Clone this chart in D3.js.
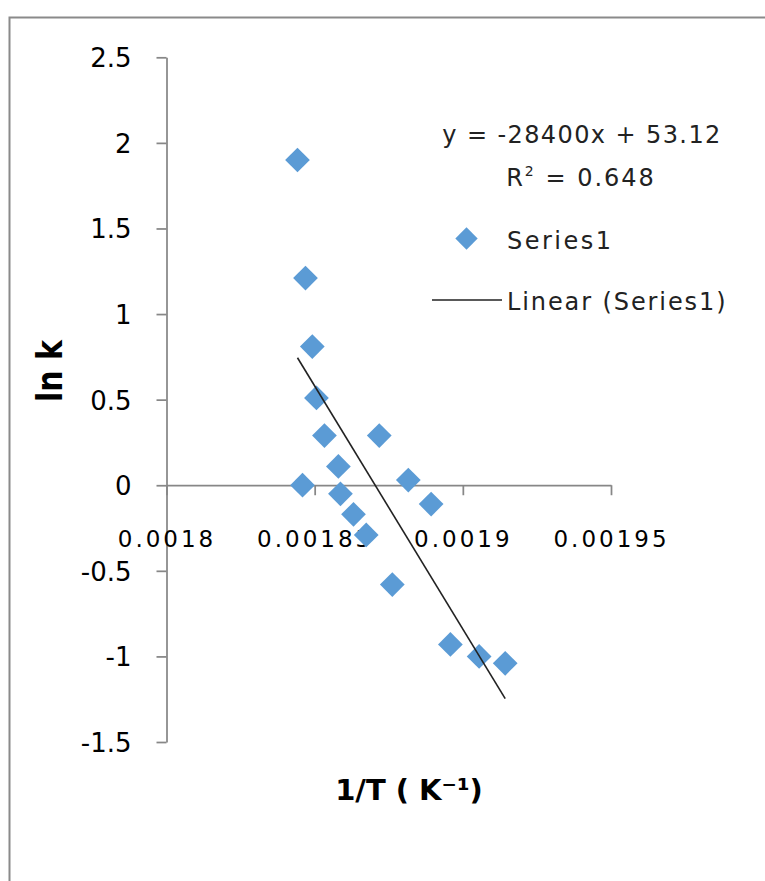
<!DOCTYPE html>
<html>
<head>
<meta charset="utf-8">
<script src="https://cdn.jsdelivr.net/npm/d3@7"></script>
<style>
  html, body { margin: 0; padding: 0; background: #fff; }
  svg { display: block; }
</style>
</head>
<body>
<svg id="chart" width="765" height="881"></svg>
<script>
// ---- data ----
const invT = [0.0018442, 0.0018469, 0.0018492, 0.0018506, 0.0018533, 0.0018459, 0.0018580, 0.0018587, 0.0018631, 0.0018674, 0.0018718, 0.0018816, 0.0018893, 0.0018762, 0.0018958, 0.0019055, 0.0019143];
const lnK  = [1.90, 1.21, 0.81, 0.51, 0.29, 0.00, 0.11, -0.05, -0.17, -0.29, 0.29, 0.03, -0.11, -0.58, -0.93, -1.00, -1.04];
const trendCoef = [-28400, 53.12];   // slope, intercept
const rSquared = "0.648";
const xTicks = [0.0018, 0.00185, 0.0019, 0.00195];
const xTickLabels = ["0.0018", "0.00185", "0.0019", "0.00195"];
const yTicks = [-1.5, -1, -0.5, 0, 0.5, 1, 1.5, 2, 2.5];
const yTickLabels = ["-1.5", "-1", "-0.5", "0", "0.5", "1", "1.5", "2", "2.5"];
const seriesName = "Series1";
const trendName = "Linear (Series1)";
const xTitle = "1/T ( K\u207B\u00B9)";
const yTitle = "ln k";

// ---- drawing ----
const svg = d3.select("#chart");
const AXIS = "#878787";
const BLUE = "#5b9bd5";
const FONT = "'DejaVu Sans', sans-serif";

// outer frame
svg.append("rect").attr("x", 9.5).attr("y", 17.5).attr("width", 800).attr("height", 900)
  .attr("fill", "#fff").attr("stroke", "#8a8a8a").attr("stroke-width", 2);

const x = d3.scaleLinear().domain([0.0018, 0.00195]).range([166.5, 611]);
const y = d3.scaleLinear().domain([-1.5, 2.5]).range([742, 57.3]);

// y axis
const yAxis = svg.append("g").attr("transform", `translate(${x(0.0018)},0)`)
  .call(d3.axisLeft(y).tickValues(yTicks).tickSize(10).tickSizeOuter(0)
        .tickFormat((d, i) => yTickLabels[i]));
yAxis.select(".domain").attr("stroke", AXIS).attr("stroke-width", 1.75);
yAxis.selectAll(".tick line").attr("stroke", AXIS).attr("stroke-width", 1.75);
yAxis.selectAll(".tick text").attr("x", -35).attr("dy", "0.36em")
  .attr("font-family", FONT).attr("font-size", 26).attr("fill", "#000");

// x axis at y = 0
const xAxis = svg.append("g").attr("transform", `translate(0,${y(0)})`)
  .call(d3.axisBottom(x).tickValues(xTicks).tickSize(10).tickSizeOuter(0)
        .tickFormat((d, i) => xTickLabels[i]));
xAxis.select(".domain").attr("stroke", AXIS).attr("stroke-width", 1.75);
xAxis.selectAll(".tick line").attr("stroke", AXIS).attr("stroke-width", 1.75);
xAxis.selectAll(".tick text").attr("y", 62).attr("dy", null)
  .attr("font-family", FONT).attr("font-size", 23).attr("letter-spacing", 3)
  .attr("fill", "#000");

// trendline
const xMin = d3.min(invT), xMax = d3.max(invT);
const trend = [xMin, xMax].map(v => [v, trendCoef[0] * v + trendCoef[1]]);

// points
const diamond = d3.symbol().type(d3.symbolDiamond2).size(390);
svg.append("g").selectAll("path").data(invT.map((v, i) => [v, lnK[i]]))
  .join("path")
  .attr("d", diamond)
  .attr("transform", d => `translate(${x(d[0])},${y(d[1])})`)
  .attr("fill", BLUE);

svg.append("line")
  .attr("x1", x(trend[0][0])).attr("y1", y(trend[0][1]))
  .attr("x2", x(trend[1][0])).attr("y2", y(trend[1][1]))
  .attr("stroke", "#222").attr("stroke-width", 1.6);

// equation label
const eqText = `y = ${trendCoef[0]}x + ${trendCoef[1]}`;
svg.append("text").attr("x", 582).attr("y", 143).attr("text-anchor", "middle")
  .attr("font-family", FONT).attr("font-size", 24).attr("letter-spacing", 1.4)
  .attr("fill", "#222").text(eqText);
const r2 = svg.append("text").attr("x", 581).attr("y", 186).attr("text-anchor", "middle")
  .attr("font-family", FONT).attr("font-size", 24).attr("letter-spacing", 2)
  .attr("fill", "#222");
r2.append("tspan").text("R");
r2.append("tspan").attr("font-size", 14).attr("dy", -10).text("2");
r2.append("tspan").attr("dy", 10).text(" = " + rSquared);

// legend
svg.append("path").attr("d", d3.symbol().type(d3.symbolDiamond2).size(320))
  .attr("transform", "translate(466.5,238.5)").attr("fill", BLUE);
svg.append("text").attr("x", 507).attr("y", 249).attr("font-family", FONT)
  .attr("font-size", 24).attr("letter-spacing", 2.5).attr("fill", "#222").text(seriesName);
svg.append("line").attr("x1", 432).attr("x2", 502).attr("y1", 300).attr("y2", 300)
  .attr("stroke", "#222").attr("stroke-width", 1.6);
svg.append("text").attr("x", 507).attr("y", 310).attr("font-family", FONT)
  .attr("font-size", 24).attr("letter-spacing", 1.9).attr("fill", "#222").text(trendName);

// axis titles
svg.append("text").attr("x", 409).attr("y", 800).attr("text-anchor", "middle")
  .attr("font-family", FONT).attr("font-weight", "bold").attr("font-size", 29)
  .attr("fill", "#000").text(xTitle);
svg.append("text").attr("transform", "translate(62,371) rotate(-90)")
  .attr("text-anchor", "middle")
  .attr("font-family", FONT).attr("font-weight", "bold").attr("font-size", 36)
  .attr("textLength", 62).attr("lengthAdjust", "spacingAndGlyphs")
  .attr("fill", "#000").text(yTitle);
</script>
</body>
</html>
